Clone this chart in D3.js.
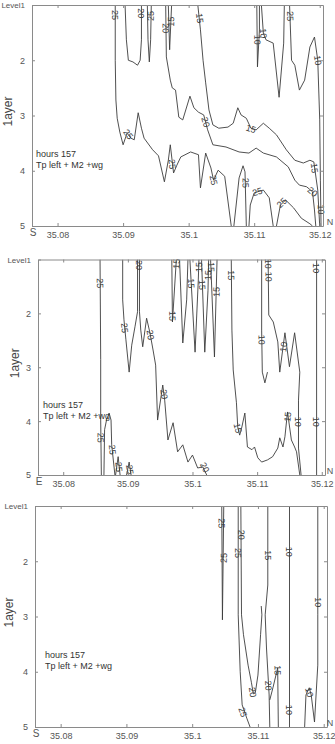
<!DOCTYPE html>
<html><head><meta charset="utf-8">
<script src="https://cdn.jsdelivr.net/npm/d3@7"></script>
<style>body{margin:0;background:#fff}svg{display:block}</style>
</head><body>
<svg id="c" width="335" height="744"></svg>
<script>
// ---------- shared axes ----------
const xDomain = [35.0761, 35.1205];
const yDomain = [1, 5];
const xTicks = [35.08, 35.09, 35.10, 35.11, 35.12];
const xTickLabels = ["35.08", "35.09", "35.1", "35.11", "35.12"];
const yTicks = [1, 2, 3, 4, 5];
const yTickLabels = ["Level1", "2", "3", "4", "5"];
const yTitle = "1ayer";
const noteLines = ["hours 157", "Tp left + M2 +wg"];
const leftEnds = ["S", "E", "S"];
const rightEnd = "N";

// ---------- panel 1 contours [lon, level] ----------
const p1_A = [[35.0888,1.00],[35.0888,2.00],[35.0889,2.72],[35.0891,3.05],[35.0895,3.30],[35.0900,3.53],[35.0906,3.32],[35.0912,3.41],[35.0917,3.44],[35.0923,2.95],[35.0928,3.23],[35.0932,3.41],[35.0945,3.62],[35.0954,3.73],[35.0963,4.20],[35.0969,3.81],[35.0972,3.53],[35.0977,4.04],[35.0982,3.90],[35.0988,3.75],[35.1003,3.66],[35.1015,3.71],[35.1018,4.31],[35.1026,3.68],[35.1034,3.95],[35.1038,4.17],[35.1045,3.99],[35.1055,4.10],[35.1065,5.00]];
const p1_B = [[35.0903,1.00],[35.0905,1.63],[35.0908,2.00],[35.0915,2.03],[35.0922,2.09],[35.0926,2.00],[35.0928,1.63],[35.0928,1.00]];
const p1_C = [[35.0937,1.00],[35.0938,1.63],[35.0940,2.03],[35.0942,1.63],[35.0943,1.00]];
const p1_U = [[35.0969,1.00],[35.0971,1.81],[35.0974,1.00]];
const p1_D = [[35.0965,1.00],[35.0966,1.94],[35.0972,2.36],[35.0975,2.50],[35.0980,2.54],[35.0985,3.03],[35.0991,3.08],[35.1002,2.65],[35.1008,2.86],[35.1015,2.94],[35.1023,2.99],[35.1029,3.26],[35.1037,3.53],[35.1057,3.57],[35.1077,3.66],[35.1092,3.68],[35.1103,3.59],[35.1114,3.68],[35.1134,3.75],[35.1152,3.93],[35.1162,4.17],[35.1169,4.26],[35.1180,4.29],[35.1189,4.38],[35.1192,4.71],[35.1194,5.00]];
const p1_E = [[35.1014,1.00],[35.1018,1.45],[35.1022,2.00],[35.1026,2.41],[35.1031,2.90],[35.1037,3.17],[35.1046,3.23],[35.1060,3.21],[35.1068,3.14],[35.1075,2.86],[35.1080,2.99],[35.1088,3.05],[35.1095,3.23],[35.1103,3.26],[35.1114,3.14],[35.1123,3.23],[35.1134,3.35],[35.1149,3.62],[35.1162,3.81],[35.1175,3.86],[35.1185,3.81],[35.1191,3.84],[35.1197,4.35],[35.1200,5.00]];
const p1_V1 = [[35.1104,1.00],[35.1105,2.12],[35.1108,1.45],[35.1108,1.00]];
const p1_V2 = [[35.1111,1.00],[35.1114,1.51],[35.1118,1.63],[35.1129,1.69],[35.1138,2.67],[35.1145,1.69],[35.1146,1.00]];
const p1_F = [[35.1154,1.00],[35.1157,2.00],[35.1162,2.09],[35.1169,2.54],[35.1177,2.36],[35.1185,1.76],[35.1192,1.58],[35.1197,2.00],[35.1200,3.08],[35.1201,4.17],[35.1202,5.00]];
const p1_G1 = [[35.1069,5.00],[35.1077,4.13],[35.1083,3.91],[35.1086,4.02],[35.1088,5.00]];
const p1_G2 = [[35.1092,5.00],[35.1094,4.62],[35.1100,4.40],[35.1114,4.35],[35.1123,4.49],[35.1129,5.00]];
const p1_G3 = [[35.1134,5.00],[35.1140,4.62],[35.1148,4.53],[35.1160,4.67],[35.1172,4.86],[35.1185,4.96],[35.1189,5.00]];
const p1_labels = [[35.0888,1.18,"25"],[35.0928,1.15,"20"],[35.0942,1.20,"25"],[35.0965,1.42,"20"],[35.0973,1.30,"15"],[35.1017,1.24,"15"],[35.0908,3.34,"25"],[35.0975,3.88,"25"],[35.1026,3.12,"20"],[35.1095,3.24,"15"],[35.1038,4.17,"25"],[35.1087,4.22,"25"],[35.1105,4.38,"25"],[35.1142,4.58,"25"],[35.1192,3.95,"15"],[35.1189,4.38,"20"],[35.1105,1.63,"10"],[35.1114,1.51,"10"],[35.1155,1.20,"25"],[35.1197,2.00,"10"],[35.1202,4.70,"10"]];

// ---------- panel 2 contours ----------
const p2_A = [[35.0857,1.00],[35.0858,2.86],[35.0858,3.98],[35.0859,5.00]];
const p2_B = [[35.0892,1.00],[35.0892,1.75],[35.0894,2.12],[35.0897,2.49],[35.0902,3.09],[35.0906,2.59],[35.0911,2.25],[35.0915,1.97],[35.0915,1.00]];
const p2_C = [[35.0918,1.00],[35.0918,1.97],[35.0920,2.31],[35.0923,2.62],[35.0929,2.09],[35.0934,2.35],[35.0939,2.68],[35.0943,2.96],[35.0946,3.98],[35.0954,3.33],[35.0957,3.61],[35.0962,4.35],[35.0970,4.03],[35.0977,4.57],[35.0985,4.44],[35.0993,4.76],[35.1000,4.63],[35.1008,4.87],[35.1016,4.85],[35.1022,5.00]];
const p2_D = [[35.0863,5.00],[35.0864,4.16],[35.0867,3.98],[35.0871,3.85],[35.0874,3.98],[35.0875,4.44],[35.0880,5.00]];
const p2_E = [[35.0881,5.00],[35.0885,4.66],[35.0888,5.00]];
const p2_F = [[35.0898,5.00],[35.0902,4.76],[35.0905,5.00]];
const p2_Z0 = [[35.0968,1.00],[35.0969,2.16],[35.0975,1.00]];
const p2_Z1 = [[35.0980,1.00],[35.0985,2.55],[35.0991,1.75],[35.0993,1.00]];
const p2_Z2 = [[35.0996,1.00],[35.1004,2.72],[35.1009,1.38],[35.1010,1.00]];
const p2_Z3 = [[35.1014,1.00],[35.1019,2.72],[35.1024,1.57],[35.1025,1.00]];
const p2_Z4 = [[35.1028,1.00],[35.1034,2.81],[35.1038,1.00]];
const p2_G = [[35.1060,1.00],[35.1061,2.31],[35.1063,3.05],[35.1068,3.66],[35.1070,4.11],[35.1073,4.26],[35.1076,4.13],[35.1081,3.85],[35.1085,4.48],[35.1092,4.53],[35.1096,4.48],[35.1101,4.68],[35.1107,4.76],[35.1116,4.72],[35.1124,4.66],[35.1132,4.50],[35.1135,4.31],[35.1140,4.48],[35.1143,4.29],[35.1147,3.83],[35.1153,4.35],[35.1158,4.48],[35.1161,4.57],[35.1166,5.00]];
const p2_H = [[35.1107,1.00],[35.1107,2.31],[35.1108,3.09],[35.1112,3.29],[35.1116,3.09]];
const p2_I = [[35.1117,1.00],[35.1118,2.03],[35.1125,2.16],[35.1132,2.53],[35.1135,3.09],[35.1143,2.36],[35.1150,2.99],[35.1158,2.36],[35.1166,3.09],[35.1164,3.61],[35.1164,4.50],[35.1168,5.00]];
const p2_J = [[35.1192,1.00],[35.1192,5.00]];
const p2_labels = [[35.0857,1.44,"25"],[35.0858,4.31,"25"],[35.0895,2.27,"25"],[35.0918,1.10,"20"],[35.0935,2.40,"20"],[35.0956,3.50,"20"],[35.1019,4.86,"20"],[35.0876,4.53,"25"],[35.0886,4.85,"25"],[35.0903,4.90,"25"],[35.0975,1.08,"15"],[35.0969,2.05,"15"],[35.0998,1.44,"15"],[35.1010,1.14,"15"],[35.1015,1.47,"15"],[35.1024,1.29,"15"],[35.1029,1.14,"15"],[35.1037,1.60,"15"],[35.1060,1.29,"15"],[35.1070,4.13,"15"],[35.1147,3.92,"15"],[35.1117,1.08,"10"],[35.1118,1.32,"10"],[35.1107,2.49,"10"],[35.1141,2.62,"10"],[35.1164,4.01,"10"],[35.1192,1.16,"10"],[35.1192,4.01,"10"]];

// ---------- panel 3 contours ----------
const p3_A = [[35.1045,1.00],[35.1046,3.06],[35.1048,1.00]];
const p3_B = [[35.1070,1.00],[35.1070,2.97],[35.1073,4.00],[35.1076,4.60],[35.1083,4.84],[35.1088,5.00]];
const p3_C = [[35.1074,1.00],[35.1075,2.97],[35.1078,3.33],[35.1085,3.88],[35.1090,4.19],[35.1093,4.40],[35.1096,4.38],[35.1100,4.06],[35.1104,3.33],[35.1106,2.97],[35.1105,2.81]];
const p3_D = [[35.1115,1.00],[35.1115,2.43],[35.1111,2.97],[35.1113,3.57],[35.1117,4.42],[35.1118,5.00]];
const p3_E = [[35.1118,4.51],[35.1123,4.28],[35.1130,3.93],[35.1131,5.00]];
const p3_F = [[35.1148,1.00],[35.1148,5.00]];
const p3_G = [[35.1191,1.00],[35.1191,2.97],[35.1191,3.88],[35.1186,4.91],[35.1181,4.42],[35.1178,4.29],[35.1173,4.42],[35.1171,5.00]];
const p3_labels = [[35.1045,1.31,"25"],[35.1048,1.94,"25"],[35.1070,1.85,"25"],[35.1077,4.73,"25"],[35.1075,1.52,"20"],[35.1092,4.37,"20"],[35.1115,1.89,"15"],[35.1116,4.25,"20"],[35.1130,3.97,"15"],[35.1148,1.83,"10"],[35.1148,4.69,"10"],[35.1191,2.74,"10"],[35.1178,4.37,"10"]];

// ---------- layout ----------
const panels = [
  {xr:[32,323], yr:[5,226], titleX:6, noteX:36, noteY:157,
   lines:[p1_A,p1_B,p1_C,p1_U,p1_D,p1_E,p1_V1,p1_V2,p1_F,p1_G1,p1_G2,p1_G3], labels:p1_labels},
  {xr:[38,325], yr:[259.5,475], titleX:13, noteX:43, noteY:408,
   lines:[p2_A,p2_B,p2_C,p2_D,p2_E,p2_F,p2_Z0,p2_Z1,p2_Z2,p2_Z3,p2_Z4,p2_G,p2_H,p2_I,p2_J], labels:p2_labels},
  {xr:[35,327], yr:[506,727], titleX:7, noteX:45, noteY:658,
   lines:[p3_A,p3_B,p3_C,p3_D,p3_E,p3_F,p3_G], labels:p3_labels}
];

const FONT = "'Liberation Sans', Arial, Helvetica, sans-serif";
const svg = d3.select("#c");
const lineCol = "#3c3c3c", axisCol = "#8a8a8a", tickTextCol = "#555";

panels.forEach((p, pi) => {
  const x = d3.scaleLinear().domain(xDomain).range(p.xr);
  const y = d3.scaleLinear().domain(yDomain).range(p.yr);
  const g = svg.append("g");
  const gen = d3.line().x(d => x(d[0])).y(d => y(d[1]));

  const cid = "clip" + pi;
  svg.append("clipPath").attr("id", cid).append("rect")
    .attr("x", p.xr[0]).attr("y", p.yr[0])
    .attr("width", p.xr[1]-p.xr[0]).attr("height", p.yr[1]-p.yr[0]);
  const gc = g.append("g").attr("clip-path", `url(#${cid})`);

  p.lines.forEach(l => {
    gc.append("path").attr("d", gen(l)).attr("fill", "none")
      .attr("stroke", lineCol).attr("stroke-width", 0.9).attr("stroke-linejoin", "round");
  });

  p.labels.forEach(([lon, lev, txt]) => {
    const px = x(lon), py = y(lev);
    let best = Infinity, ang = 90;
    p.lines.forEach(l => {
      for (let i = 0; i < l.length - 1; i++) {
        const ax = x(l[i][0]), ay = y(l[i][1]), bx = x(l[i+1][0]), by = y(l[i+1][1]);
        const dx = bx-ax, dy = by-ay, L2 = dx*dx+dy*dy || 1;
        let t = ((px-ax)*dx + (py-ay)*dy) / L2; t = Math.max(0, Math.min(1, t));
        const qx = ax+t*dx, qy = ay+t*dy, d2 = (px-qx)**2 + (py-qy)**2;
        if (d2 < best) { best = d2; ang = Math.atan2(dy, dx) * 180 / Math.PI; }
      }
    });
    if (ang > 90) ang -= 180;
    if (ang <= -90) ang += 180;
    g.append("text").attr("transform", `translate(${px},${py}) rotate(${ang})`)
      .attr("text-anchor", "middle").attr("dy", "0.35em")
      .attr("font-family", FONT).attr("font-size", 9).attr("fill", lineCol).text(txt);
  });

  const styleAxis = sel => {
    sel.selectAll("path.domain").attr("stroke", axisCol).attr("stroke-width", 1);
    sel.selectAll(".tick line").attr("stroke", axisCol);
    sel.selectAll("text").attr("fill", tickTextCol).attr("font-family", FONT).attr("font-size", 9);
  };
  const b = g.append("g").attr("transform", `translate(0,${p.yr[1]})`)
    .call(d3.axisBottom(x).tickValues(xTicks).tickSize(-3).tickSizeOuter(0).tickPadding(6)
      .tickFormat((d, i) => xTickLabels[i]));
  styleAxis(b);
  const t = g.append("g").attr("transform", `translate(0,${p.yr[0]})`)
    .call(d3.axisTop(x).tickValues(xTicks).tickSize(-3).tickSizeOuter(0).tickFormat(""));
  styleAxis(t);
  const lft = g.append("g").attr("transform", `translate(${p.xr[0]},0)`)
    .call(d3.axisLeft(y).tickValues(yTicks).tickSize(-3).tickSizeOuter(0).tickPadding(7)
      .tickFormat((d, i) => yTickLabels[i]));
  styleAxis(lft);
  lft.selectAll("text").filter(d => d === 1).attr("font-size", 8);
  const r = g.append("g").attr("transform", `translate(${p.xr[1]},0)`)
    .call(d3.axisRight(y).tickValues(yTicks).tickSize(-3).tickSizeOuter(0).tickFormat(""));
  styleAxis(r);

  g.append("text").attr("x", p.xr[0] + 1).attr("y", p.yr[1] + 10)
    .attr("text-anchor", "middle").attr("font-family", FONT).attr("font-size", 10)
    .attr("fill", tickTextCol).text(leftEnds[pi]);
  g.append("text").attr("x", Math.min(p.xr[1] + 7, 330)).attr("y", p.yr[1] - 1)
    .attr("text-anchor", "middle").attr("font-family", FONT).attr("font-size", 9)
    .attr("fill", tickTextCol).text(rightEnd);

  const cy = (p.yr[0] + p.yr[1]) / 2 - 4;
  g.append("text").attr("transform", `translate(${p.titleX + 6},${cy}) rotate(-90)`)
    .attr("text-anchor", "middle").attr("font-family", FONT).attr("font-size", 12)
    .attr("fill", "#444").text(yTitle);

  noteLines.forEach((s, i) => {
    g.append("text").attr("x", p.noteX).attr("y", p.noteY + i * 10.5)
      .attr("font-family", FONT).attr("font-size", 9).attr("fill", "#333").text(s);
  });
});
</script>
</body></html>
